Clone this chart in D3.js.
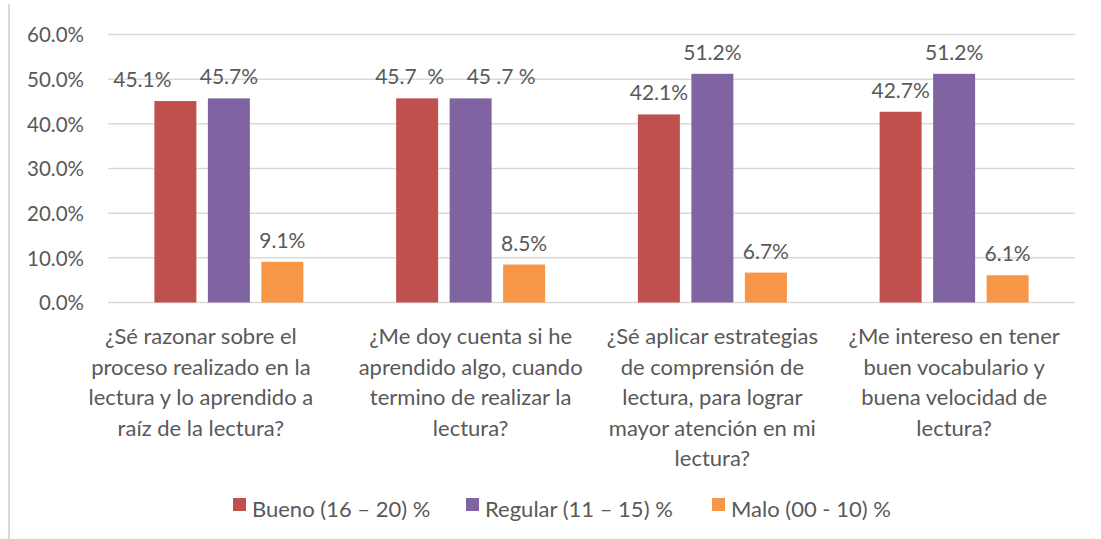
<!DOCTYPE html>
<html>
<head>
<meta charset="utf-8">
<script src="https://cdn.jsdelivr.net/npm/d3@7"></script>
<style>
  body { margin: 0; background: #fff; }
  svg text { font-family: Lato, "Open Sans", sans-serif; fill: #595959; white-space: pre; }
</style>
</head>
<body>
<div class="chart"></div>
<script>
// values
const categories = [
	["¿Sé razonar sobre el", "proceso realizado en la", "lectura y lo aprendido a", "raíz de la lectura?"],
	["¿Me doy cuenta si he", "aprendido algo, cuando", "termino de realizar la", "lectura?"],
	["¿Sé aplicar estrategias", "de comprensión de", "lectura, para lograr", "mayor atención en mi", "lectura?"],
	["¿Me intereso en tener", "buen vocabulario y", "buena velocidad de", "lectura?"]
];
const seriesNames = ["Bueno (16 – 20) %", "Regular (11 – 15) %", "Malo (00 - 10) %"];
const bueno   = [0.451, 0.457, 0.421, 0.427];
const regular = [0.457, 0.457, 0.512, 0.512];
const malo    = [0.091, 0.085, 0.067, 0.061];
const yTicks  = [0, 0.1, 0.2, 0.3, 0.4, 0.5, 0.6];

const colors = ["#C0504D", "#8064A2", "#F79646"];
const width = 1101, height = 539;
const plot = {left: 108, right: 1075, top: 34.5, bottom: 302.5};

const svg = d3.select(".chart").append("svg")
	.attr("width", width)
	.attr("height", height);

// left edge of the chart frame
svg.append("line")
	.attr("x1", 9).attr("x2", 9)
	.attr("y1", 4).attr("y2", 539)
	.attr("stroke", "#D9D9D9")
	.attr("stroke-width", 2);

const x0 = d3.scaleBand()
	.domain(d3.range(categories.length))
	.range([plot.left, plot.right]);
const x1 = d3.scaleBand()
	.domain(d3.range(seriesNames.length))
	.range([0, x0.bandwidth()])
	.paddingInner(0.215)
	.paddingOuter(0.867);
const y = d3.scaleLinear()
	.domain([0, 0.6])
	.range([plot.bottom, plot.top]);

// gridlines
svg.append("g").selectAll("line")
	.data(yTicks)
	.join("line")
		.attr("x1", plot.left).attr("x2", plot.right)
		.attr("y1", d => y(d)).attr("y2", d => y(d))
		.attr("stroke", "#D9D9D9")
		.attr("stroke-width", 1.5);

// y axis labels
const yAxis = svg.append("g")
	.attr("transform", "translate(" + 84 + ",0)")
	.call(d3.axisLeft(y).tickValues(yTicks).tickFormat(d3.format(".1%")).tickSize(0).tickPadding(0));
yAxis.select(".domain").remove();
yAxis.selectAll("text")
	.attr("font-size", 20.5)
	.attr("dy", "0.36em")
	.attr("fill", "#595959")
	.style("font-family", "Lato, sans-serif");

const rows = categories.map((c, i) => [bueno[i], regular[i], malo[i]]);
const fmt = d3.format(".1%");

// the reference has a few hand-moved / oddly spaced labels
function labelOverride(ci, si){
	if (ci === 0 && si === 0) return {dx: -33};
	if (ci === 1 && si === 0) return {anchor: "start", dx: -21, text: "45.7  %"};
	if (ci === 1 && si === 1) return {anchor: "start", dx: 17, text: "45 .7 %"};
	return {};
}

const groups = svg.append("g").selectAll("g")
	.data(rows)
	.join("g")
		.attr("transform", (d, i) => "translate(" + x0(i) + ",0)");

groups.selectAll("rect")
	.data(d => d)
	.join("rect")
		.attr("x", (d, i) => x1(i))
		.attr("width", x1.bandwidth())
		.attr("y", d => y(d))
		.attr("height", d => y(0) - y(d))
		.attr("fill", (d, i) => colors[i]);

groups.each(function(d, ci){
	d3.select(this).selectAll("text.val")
		.data(d)
		.join("text")
			.attr("class", "val")
			.each(function(v, si){
				const o = labelOverride(ci, si);
				const anchor = o.anchor || "middle";
				const bx = anchor === "start" ? x1(si) : x1(si) + x1.bandwidth() / 2;
				d3.select(this)
					.attr("x", bx + (o.dx || 0))
					.attr("y", y(v) - 14)
					.attr("text-anchor", anchor)
					.attr("font-size", 21)
					.text(o.text || fmt(v));
			});
});

// category labels
const catDx = [-28, 0, 0, 0];
svg.append("g").selectAll("text")
	.data(categories)
	.join("text")
		.attr("text-anchor", "middle")
		.attr("font-size", 22)
		.attr("transform", (d, i) => "translate(" + (x0(i) + x0.bandwidth() / 2 + catDx[i]) + ",344)")
		.selectAll("tspan")
		.data(d => d)
		.join("tspan")
			.attr("x", 0)
			.attr("y", (d, i) => i * 30.5)
			.text(d => d);

// legend
const legendX = [233, 466, 712];
const legend = svg.append("g").selectAll("g")
	.data(seriesNames)
	.join("g")
		.attr("transform", (d, i) => "translate(" + legendX[i] + ",498)");
legend.append("rect")
	.attr("width", 13).attr("height", 13)
	.attr("fill", (d, i) => colors[i]);
legend.append("text")
	.attr("x", 19)
	.attr("y", 19)
	.attr("font-size", 22)
	.text(d => d);
</script>
</body>
</html>
